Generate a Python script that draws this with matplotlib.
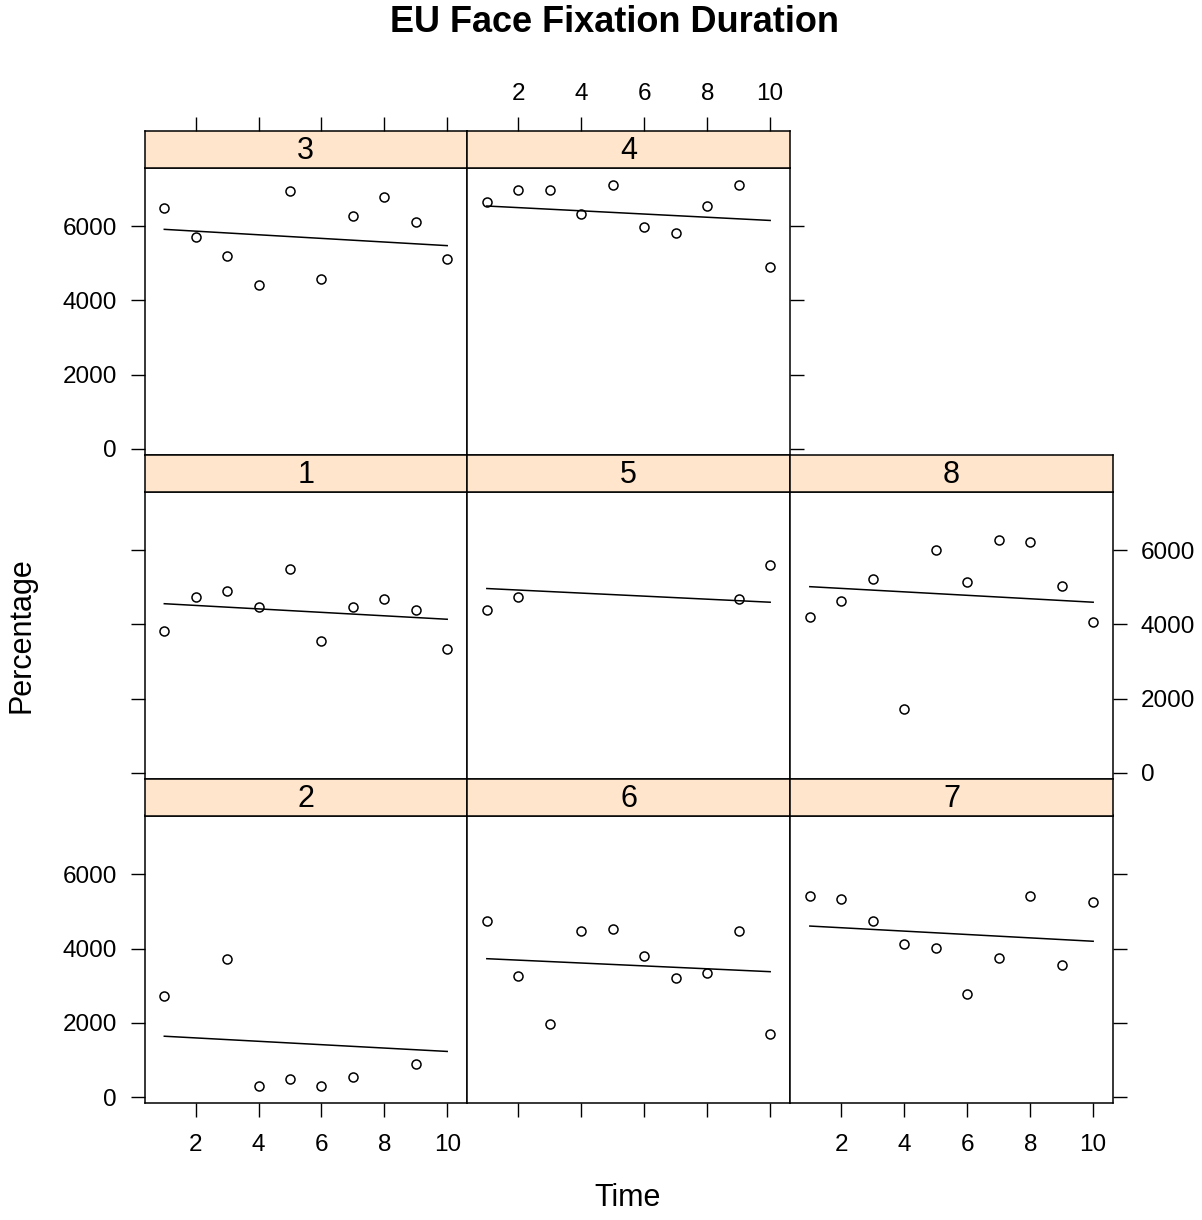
import numpy as np
import matplotlib.pyplot as plt

nan = np.nan
time = np.arange(1, 11)

# fixation duration per subject (panel), Time 1..10
p1 = [3810, 4740, 4890, 4480, 5510, 3550, 4480, 4680, 4380, 3350]
p2 = [2730, nan, 3710, 290, 480, 290, 540, nan, 890, nan]
p3 = [6490, 5720, 5210, 4430, 6960, 4580, 6290, 6800, 6130, 5110]
p4 = [6660, 6970, 6970, 6330, 7120, 5980, 5830, 6550, 7120, 4890]
p5 = [4380, 4740, nan, nan, nan, nan, nan, nan, 4680, 5600]
p6 = [4740, 3250, 1970, 4480, 4530, 3810, 3200, 3350, 4480, 1710]
p7 = [5410, 5350, 4740, 4120, 4020, 2790, 3760, 5410, 3560, 5250]
p8 = [4210, 4620, 5240, 1710, 6010, 5140, 6270, 6220, 5030, 4060]

# fitted line values at Time 1 and Time 10
fit_start = {1: 4560, 2: 1640, 3: 5920, 4: 6550, 5: 4970, 6: 3730, 7: 4610, 8: 5020}
fit_end = {1: 4140, 2: 1230, 3: 5480, 4: 6160, 5: 4600, 6: 3380, 7: 4200, 8: 4600}

xticks = [2, 4, 6, 8, 10]
yticks = [0, 2000, 4000, 6000]

series = {1: p1, 2: p2, 3: p3, 4: p4, 5: p5, 6: p6, 7: p7, 8: p8}
layout = [[3, 4, None], [1, 5, 8], [2, 6, 7]]

W, H = 1202, 1220
plt.rcParams['font.family'] = ['Liberation Sans', 'DejaVu Sans']
fig = plt.figure(figsize=(W / 100, H / 100), dpi=100)


def box(x0, y0, x1, y1):
    return [x0 / W, 1 - y1 / H, (x1 - x0) / W, (y1 - y0) / H]


cols = [144.5, 467, 790, 1113]
rows = [(131, 167.5, 454.5), (454.5, 491.5, 778.5), (778.5, 815.5, 1103)]
xlim = (0.37, 10.63)
ylim = (-160, 7590)
tick_kw = dict(direction='out', length=10, width=1, labelsize=17.5, colors='black')

for r, row in enumerate(layout):
    for c, pid in enumerate(row):
        if pid is None:
            continue
        st, pt, pb = rows[r]
        ax = fig.add_axes(box(cols[c], pt, cols[c + 1], pb))
        sax = fig.add_axes(box(cols[c], st, cols[c + 1], pt))

        ax.plot(time, series[pid], linestyle='none', marker='o', ms=6.5,
                mfc='white', mec='black', mew=1.1)
        ax.plot([time[0], time[-1]], [fit_start[pid], fit_end[pid]],
                color='black', lw=1.1)
        ax.set_xlim(xlim)
        ax.set_ylim(ylim)
        for s in ax.spines.values():
            s.set_linewidth(1.1)

        sax.set_facecolor('#ffe5cc')
        sax.set_xlim(xlim)
        sax.set_yticks([])
        sax.text(0.5, 0.45, str(pid), transform=sax.transAxes,
                 ha='center', va='center', fontsize=22)
        for s in sax.spines.values():
            s.set_linewidth(1.1)

        # x ticks: bottom row gets bottom ticks, top row gets top ticks on strip
        ax.set_xticks(xticks)
        ax.tick_params(axis='x', **tick_kw, pad=12)
        is_bottom = r == 2
        ax.tick_params(axis='x', bottom=is_bottom,
                       labelbottom=is_bottom and c != 1)
        sax.set_xticks(xticks)
        sax.tick_params(axis='x', **tick_kw, pad=9)
        is_top = r == 0
        sax.tick_params(axis='x', bottom=False, labelbottom=False,
                        top=is_top, labeltop=is_top and c == 1)

        # y ticks: left on first column, right on the last panel of each row
        ax.set_yticks(yticks)
        ax.tick_params(axis='y', **tick_kw, pad=10)
        is_left = c == 0
        is_right = (c == len([p for p in row if p is not None]) - 1)
        ax.tick_params(axis='y', left=is_left, labelleft=is_left and r != 1,
                       right=is_right, labelright=is_right and r == 1)

fig.text(615 / W, 1 - 23 / H, 'EU Face Fixation Duration', ha='center',
         va='center', fontsize=26, fontweight='bold')
fig.text(22 / W, 1 - 635 / H, 'Percentage', ha='center', va='center',
         rotation=90, fontsize=22)
fig.text(628 / W, 1 - 1198 / H, 'Time', ha='center', va='center', fontsize=22)

fig.savefig('out.png', dpi=100)
